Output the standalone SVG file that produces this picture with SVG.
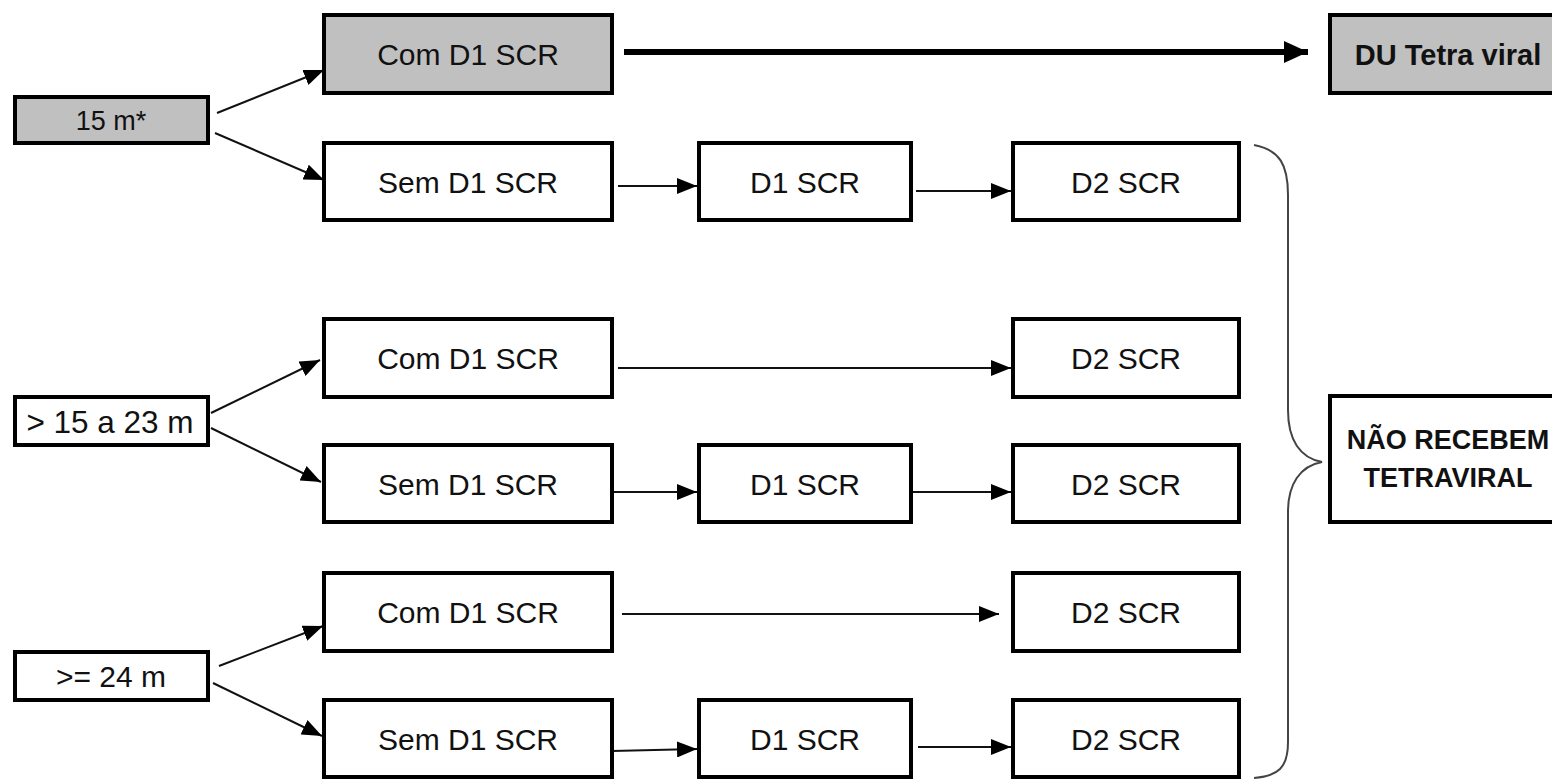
<svg xmlns="http://www.w3.org/2000/svg" width="1552" height="781" viewBox="0 0 1552 781">
<style>
.box{fill:#fff;stroke:#000;stroke-width:4}
.gray{fill:#c0c0c0}
.t{font-family:"Liberation Sans",Arial,sans-serif;font-size:30px;fill:#111;text-anchor:middle}
.b{font-weight:bold;font-size:29px}
.c{stroke:#111;stroke-width:2;fill:none}
.thick{stroke:#000;stroke-width:6;fill:none}
.brace{stroke:#444;stroke-width:2;fill:none}
</style>
<defs>
<marker id="ah" viewBox="0 0 20 16" refX="20" refY="8" markerWidth="20" markerHeight="16" markerUnits="userSpaceOnUse" orient="auto"><path d="M0,0 L20,8 L0,16 z" fill="#000"/></marker>
<marker id="ahb" viewBox="0 0 24 22" refX="24" refY="11" markerWidth="24" markerHeight="22" markerUnits="userSpaceOnUse" orient="auto"><path d="M0,0 L24,11 L0,22 z" fill="#000"/></marker>
</defs>
<g id="connectors">
<line class="c" x1="217" y1="113" x2="324" y2="70" marker-end="url(#ah)"/>
<line class="c" x1="215" y1="133" x2="324" y2="180" marker-end="url(#ah)"/>
<line class="thick" x1="624" y1="52" x2="1308" y2="52" marker-end="url(#ahb)"/>
<line class="c" x1="618" y1="186" x2="697" y2="186" marker-end="url(#ah)"/>
<line class="c" x1="916" y1="191" x2="1011" y2="191" marker-end="url(#ah)"/>
<line class="c" x1="211" y1="413" x2="320" y2="360" marker-end="url(#ah)"/>
<line class="c" x1="211" y1="428" x2="321" y2="482" marker-end="url(#ah)"/>
<line class="c" x1="618" y1="368" x2="1011" y2="368" marker-end="url(#ah)"/>
<line class="c" x1="612" y1="492" x2="697" y2="492" marker-end="url(#ah)"/>
<line class="c" x1="912" y1="492" x2="1011" y2="492" marker-end="url(#ah)"/>
<line class="c" x1="219" y1="666" x2="323" y2="626" marker-end="url(#ah)"/>
<line class="c" x1="213" y1="683" x2="322" y2="736" marker-end="url(#ah)"/>
<line class="c" x1="622" y1="614" x2="999" y2="614" marker-end="url(#ah)"/>
<line class="c" x1="612" y1="751" x2="697" y2="749" marker-end="url(#ah)"/>
<line class="c" x1="918" y1="747" x2="1011" y2="747" marker-end="url(#ah)"/>
<path id="brace" class="brace" d="M1254,145 C1280,150 1288,165 1288,195 L1288,410 C1288,440 1300,458 1322,462 C1300,466 1288,484 1288,512 L1288,742 C1288,768 1278,776 1254,778"/>
</g>
<g id="n15"><rect class="box gray" x="15" y="97" width="193" height="46"/><text class="t" x="111" y="130" style="font-size:27px">15 m*</text></g>
<g id="com1"><rect class="box gray" x="324" y="15" width="288" height="78"/><text class="t" x="468" y="65">Com D1 SCR</text></g>
<g id="du"><rect class="box gray" x="1330" y="15" width="240" height="78"/><text class="t b" x="1448" y="65">DU Tetra viral</text></g>
<g id="sem1"><rect class="box" x="324" y="143" width="288" height="77"/><text class="t" x="468" y="193">Sem D1 SCR</text></g>
<g id="d1a"><rect class="box" x="699" y="143" width="212" height="77"/><text class="t" x="805" y="193">D1 SCR</text></g>
<g id="d2a"><rect class="box" x="1013" y="143" width="226" height="77"/><text class="t" x="1126" y="193">D2 SCR</text></g>
<g id="n1523"><rect class="box" x="15" y="397" width="193" height="48"/><text class="t" x="110" y="433" style="font-size:31.5px">&gt; 15 a 23 m</text></g>
<g id="com2"><rect class="box" x="324" y="319" width="288" height="78"/><text class="t" x="468" y="369">Com D1 SCR</text></g>
<g id="d2b"><rect class="box" x="1013" y="319" width="226" height="78"/><text class="t" x="1126" y="369">D2 SCR</text></g>
<g id="sem2"><rect class="box" x="324" y="445" width="288" height="77"/><text class="t" x="468" y="495">Sem D1 SCR</text></g>
<g id="d1b"><rect class="box" x="699" y="445" width="212" height="77"/><text class="t" x="805" y="495">D1 SCR</text></g>
<g id="d2c"><rect class="box" x="1013" y="445" width="226" height="77"/><text class="t" x="1126" y="495">D2 SCR</text></g>
<g id="nao"><rect class="box" x="1330" y="396" width="240" height="126"/><text class="t b" x="1448" y="449" style="font-size:27px">NÃO RECEBEM</text><text class="t b" x="1448" y="487" style="font-size:27px">TETRAVIRAL</text></g>
<g id="com3"><rect class="box" x="324" y="573" width="288" height="78"/><text class="t" x="468" y="623">Com D1 SCR</text></g>
<g id="d2d"><rect class="box" x="1013" y="573" width="226" height="78"/><text class="t" x="1126" y="623">D2 SCR</text></g>
<g id="n24"><rect class="box" x="15" y="652" width="193" height="48"/><text class="t" x="111" y="687">&gt;= 24 m</text></g>
<g id="sem3"><rect class="box" x="324" y="700" width="288" height="77"/><text class="t" x="468" y="750">Sem D1 SCR</text></g>
<g id="d1c"><rect class="box" x="699" y="700" width="212" height="77"/><text class="t" x="805" y="750">D1 SCR</text></g>
<g id="d2e"><rect class="box" x="1013" y="700" width="226" height="77"/><text class="t" x="1126" y="750">D2 SCR</text></g>
</svg>
